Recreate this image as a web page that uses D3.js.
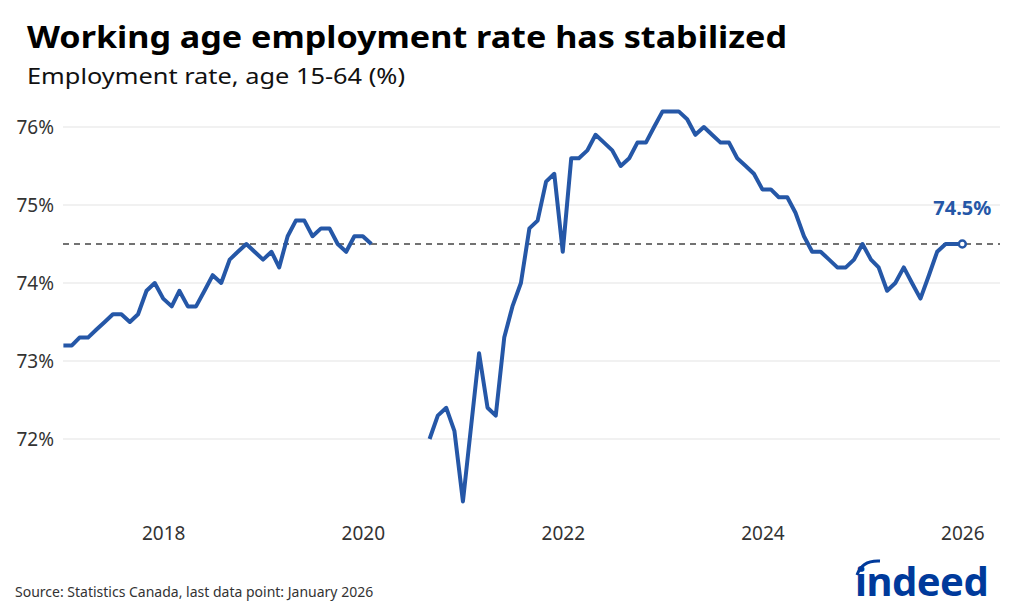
<!DOCTYPE html>
<html>
<head>
<meta charset="utf-8">
<script src="https://cdn.jsdelivr.net/npm/d3@7"></script>
<style>
  body { margin: 0; background: #fff; }
  svg { display: block; font-family: "Noto Sans", sans-serif; }
</style>
</head>
<body>
<svg id="chart" width="1024" height="614" viewBox="0 0 1024 614"></svg>
<script>
// monthly employment rate, Jan 2017 .. Jan 2026 (null = not shown)
const years = [2017, 2018, 2019, 2020, 2021, 2022, 2023, 2024, 2025, 2026];
const rates = [
  73.2, 73.2, 73.3, 73.3, 73.4, 73.5, 73.6, 73.6, 73.5, 73.6, 73.9, 74.0,
  73.8, 73.7, 73.9, 73.7, 73.7, 73.9, 74.1, 74.0, 74.3, 74.4, 74.5, 74.4,
  74.3, 74.4, 74.2, 74.6, 74.8, 74.8, 74.6, 74.7, 74.7, 74.5, 74.4, 74.6,
  74.6, 74.5, null, null, null, null, null, null, 72.0, 72.3, 72.4, 72.1,
  71.2, 72.2, 73.1, 72.4, 72.3, 73.3, 73.7, 74.0, 74.7, 74.8, 75.3, 75.4,
  74.4, 75.6, 75.6, 75.7, 75.9, 75.8, 75.7, 75.5, 75.6, 75.8, 75.8, 76.0,
  76.2, 76.2, 76.2, 76.1, 75.9, 76.0, 75.9, 75.8, 75.8, 75.6, 75.5, 75.4,
  75.2, 75.2, 75.1, 75.1, 74.9, 74.6, 74.4, 74.4, 74.3, 74.2, 74.2, 74.3,
  74.5, 74.3, 74.2, 73.9, 74.0, 74.2, 74.0, 73.8, 74.1, 74.4, 74.5, 74.5,
  74.5
];
const yTicks = [72, 73, 74, 75, 76];
const xTickYears = [2018, 2020, 2022, 2024, 2026];
const referenceLevel = 74.5;

const data = rates.map((v, i) => ({ date: new Date(years[0], i, 1), value: v }));
const last = data[data.length - 1];

const svg = d3.select("#chart");
const blue = "#2557a7";
const gridLeft = 63, gridRight = 1000;

const x = d3.scaleTime()
  .domain([new Date(2017, 0, 1), new Date(2026, 0, 1)])
  .range([63.4, 962.3]);
const y = d3.scaleLinear().domain([72, 76]).range([439, 127]);

// title (text in the original is set a little wide, so stretch to fit)
svg.append("text").attr("x", 27).attr("y", 48)
  .attr("font-size", 30).attr("font-weight", 700).attr("fill", "#000")
  .attr("textLength", 760).attr("lengthAdjust", "spacingAndGlyphs")
  .text("Working age employment rate has stabilized");
svg.append("text").attr("x", 27).attr("y", 84)
  .attr("font-size", 22.5).attr("fill", "#111")
  .attr("textLength", 378).attr("lengthAdjust", "spacingAndGlyphs")
  .text("Employment rate, age 15-64 (%)");

// y grid + labels
const yAxis = svg.append("g");
yAxis.selectAll("line").data(yTicks).join("line")
  .attr("x1", gridLeft).attr("x2", gridRight)
  .attr("y1", d => y(d)).attr("y2", d => y(d))
  .attr("stroke", "#e3e3e3").attr("stroke-width", 1);
yAxis.selectAll("text").data(yTicks).join("text")
  .attr("x", 54).attr("y", d => y(d)).attr("dy", "0.36em")
  .attr("text-anchor", "end").attr("font-size", 19).attr("fill", "#333")
  .text(d => d + "%");

// x labels
const xAxis = d3.axisBottom(x)
  .tickValues(xTickYears.map(yr => new Date(yr, 0, 1)))
  .tickFormat(d3.timeFormat("%Y"))
  .tickSize(0).tickPadding(0);
const xg = svg.append("g").attr("transform", "translate(0,526)").call(xAxis);
xg.select(".domain").remove();
xg.selectAll("text").attr("font-size", 19).attr("fill", "#333")
  .attr("font-family", "Noto Sans, sans-serif");

// dashed reference line
svg.append("line")
  .attr("x1", gridLeft).attr("x2", gridRight)
  .attr("y1", y(referenceLevel)).attr("y2", y(referenceLevel))
  .attr("stroke", "#444").attr("stroke-width", 1.5)
  .attr("stroke-dasharray", "6,5");

// series line
const line = d3.line()
  .defined(d => d.value != null)
  .x(d => x(d.date)).y(d => y(d.value));
svg.append("path").datum(data)
  .attr("d", line).attr("fill", "none")
  .attr("stroke", blue).attr("stroke-width", 4)
  .attr("stroke-linejoin", "round");

// end marker + label
svg.append("circle")
  .attr("cx", x(last.date)).attr("cy", y(last.value)).attr("r", 3.5)
  .attr("fill", "#fff").attr("stroke", blue).attr("stroke-width", 2.5);
svg.append("text")
  .attr("x", x(last.date)).attr("y", 215)
  .attr("text-anchor", "middle").attr("font-size", 20).attr("font-weight", 700)
  .attr("fill", blue).text(last.value.toFixed(1) + "%");

// source
svg.append("text").attr("x", 15).attr("y", 597)
  .attr("font-size", 14).attr("fill", "#333")
  .text("Source: Statistics Canada, last data point: January 2026");

// logo
const logo = svg.append("g");
logo.append("text").attr("x", 855).attr("y", 596)
  .attr("font-size", 40).attr("font-weight", 700).attr("fill", "#003a9b")
  .attr("letter-spacing", -0.5).text("indeed");
logo.append("path")
  .attr("d", "M857,575 Q862,560 880,561")
  .attr("fill", "none").attr("stroke", "#003a9b").attr("stroke-width", 3);
</script>
</body>
</html>
